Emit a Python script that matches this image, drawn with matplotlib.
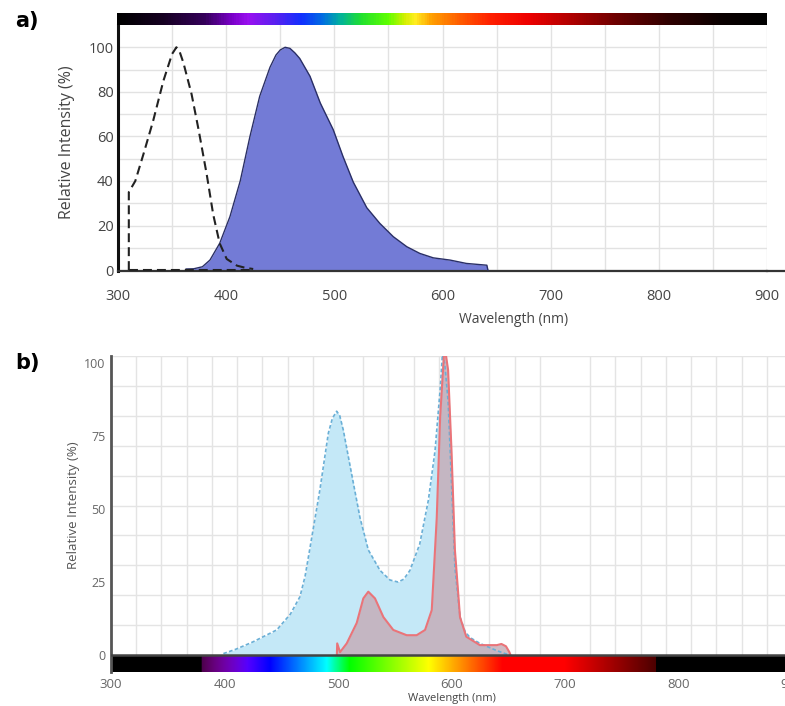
import matplotlib
matplotlib.use("Agg")
import matplotlib.pyplot as plt
import numpy as np
from matplotlib.colors import LinearSegmentedColormap

plt.rcParams['font.family'] = ['Open Sans', 'DejaVu Sans']

# ---- panel a) data (read off the picture) ----
ex_a_wl = [310, 310, 316, 323.5, 332.5, 342, 346, 350, 354, 357, 360.5, 368,
           374.5, 382, 388, 394, 400.5, 410, 418, 425]
ex_a_int = [0, 35, 40, 52, 67, 85, 91, 97, 100, 98, 93, 79,
            63, 43, 25, 12, 5, 2, 1, 0.5]

em_a_wl = [363, 370, 378, 385, 394, 403.5, 413, 422, 431, 440.5, 446, 450,
           454.5, 459, 463.5, 468, 477.5, 487, 499, 508, 517.5, 530, 542,
           554.5, 567, 579, 591.5, 607, 622, 641, 642]
em_a_int = [0.5, 0.6, 1.5, 4.5, 12, 24, 40, 60, 78, 91, 96.5, 98.8,
            100, 99.5, 97.5, 95, 87, 75, 63, 51, 39.5, 28, 21,
            15, 10.5, 7.5, 5.5, 4.5, 3, 2.2, 0]

# ---- panel b) data ----
ex_b_wl = [399, 410, 425, 446, 458, 466.5, 471, 475, 484, 491.5, 495, 498.8,
           501.5, 504.7, 512, 519.4, 526.7, 537, 545.8, 553, 558, 563.4, 572,
           579.6, 585.5, 590, 592, 594, 597, 600, 603, 607.5, 612, 616.3,
           625, 640, 651]
ex_b_int = [0.5, 2, 4.5, 8.6, 14, 20, 27, 36, 56.5, 76, 81, 83.5,
            82, 77, 62, 47, 36, 29, 25.7, 25, 26, 29, 38,
            53, 70, 91, 103, 100, 87, 59, 30, 13, 8, 6,
            4, 1.5, 0]

em_b_wl = [499, 499.3, 501.8, 507.7, 516.5, 522.3, 526.7, 532.6, 540, 548.7,
           560.5, 569.3, 576.7, 582.6, 587, 590, 593.4, 595, 597, 600, 603,
           607.5, 613, 625, 640, 644, 648, 651, 652]
em_b_int = [0, 4, 1, 4, 11, 19.4, 21.7, 19.4, 13, 8.6,
            6.8, 6.8, 8.6, 15.4, 47, 81.6, 103, 103, 97.6, 70, 36,
            13, 6.3, 3.4, 3.4, 3.8, 3, 1, 0]

x_ticks = [300, 400, 500, 600, 700, 800, 900]
ya_ticks = [0, 20, 40, 60, 80, 100]
yb_ticks = [0, 25, 50, 75, 100]


def bruton_rgb(w):
    # approximate visible-spectrum colour for a wavelength in nm
    if 380 <= w < 440:
        r, g, b = -(w - 440) / 60, 0.0, 1.0
    elif 440 <= w < 490:
        r, g, b = 0.0, (w - 440) / 50, 1.0
    elif 490 <= w < 510:
        r, g, b = 0.0, 1.0, -(w - 510) / 20
    elif 510 <= w < 580:
        r, g, b = (w - 510) / 70, 1.0, 0.0
    elif 580 <= w < 645:
        r, g, b = 1.0, -(w - 645) / 65, 0.0
    elif 645 <= w <= 780:
        r, g, b = 1.0, 0.0, 0.0
    else:
        return (0, 0, 0)
    if w < 420:
        f = 0.3 + 0.7 * (w - 380) / 40
    elif w > 700:
        f = 0.3 + 0.7 * (780 - w) / 80
    else:
        f = 1.0
    return (r * f, g * f, b * f)


fig = plt.figure(figsize=(7.85, 7.06), dpi=100)
W, H = 785.0, 706.0

# ================= panel a =================
ax1 = fig.add_axes([118 / W, 1 - 271 / H, 649 / W, 246 / H])
bar1 = fig.add_axes([117 / W, 1 - 25 / H, 650 / W, 12 / H])

top_stops = [(300, '#000000'), (340, '#150020'), (380, '#35005a'), (405, '#7a00c8'),
             (420, '#9a10f0'), (445, '#5a20f0'), (470, '#1030ff'), (490, '#0070e0'),
             (505, '#00b0a0'), (525, '#20e030'), (550, '#60ff00'), (565, '#d0f000'),
             (575, '#ffee20'), (590, '#ffa000'), (615, '#ff6000'), (645, '#ff2000'),
             (680, '#ee0000'), (720, '#b00000'), (760, '#700000'), (810, '#300000'),
             (860, '#0a0000'), (900, '#000000')]
cmap_top = LinearSegmentedColormap.from_list(
    'top', [((w - 300) / 600, c) for w, c in top_stops])
bar1.imshow(np.linspace(0, 1, 600)[None, :], cmap=cmap_top, aspect='auto',
            extent=[300, 900, 0, 1])
bar1.set_axis_off()

ax1.fill_between(em_a_wl, em_a_int, color='#737bd6', zorder=2, linewidth=0)
ax1.plot(em_a_wl, em_a_int, color='#2a2f66', lw=1.0, zorder=3)
ax1.plot(ex_a_wl, ex_a_int, color='#222222', lw=1.5, dashes=(4.3, 2.4), zorder=4)
ax1.plot([ex_a_wl[0], ex_a_wl[-1]], [0, 0], color='#222222', lw=1.5,
         dashes=(4.3, 2.4), zorder=4)

ax1.set_xlim(300, 900)
ax1.set_ylim(-0.4, 110)
ax1.set_xticks(x_ticks)
ax1.set_yticks(ya_ticks)
ax1.set_xticks(np.arange(300, 901, 50), minor=True)
ax1.set_yticks(np.arange(0, 101, 10), minor=True)
ax1.grid(which='minor', color='#e2e2e2', lw=1.0)
ax1.grid(which='major', color='#e2e2e2', lw=1.0)
ax1.set_axisbelow(True)
ax1.tick_params(which='both', length=0)
ax1.tick_params(axis='x', pad=13, labelsize=10.5, labelcolor='#444444')
ax1.tick_params(axis='y', pad=3, labelsize=10.5, labelcolor='#444444')
for s in ['top', 'right']:
    ax1.spines[s].set_visible(False)
ax1.spines['left'].set_linewidth(2.2)
ax1.spines['left'].set_color('#111111')
ax1.spines['bottom'].set_linewidth(1.6)
ax1.spines['bottom'].set_color('#333333')
ax1.axhline(-0.4, xmin=1.0, xmax=1.03, color='#333333', lw=1.6, clip_on=False)

ax1.set_ylabel('Relative Intensity (%)', fontsize=11.5, color='#444444')
ax1.yaxis.set_label_coords(-0.066, 0.524)
ax1.set_xlabel('Wavelength (nm)', fontsize=10, color='#444444')
ax1.xaxis.set_label_coords(0.609, -0.165)

# ================= panel b =================
ybot, ytop = -5.8, 102.4
ax2 = fig.add_axes([111 / W, 1 - 672 / H, 681 / W, 316 / H])

bar_wl = np.arange(300, 901)
bar_rgb = np.array([bruton_rgb(w) for w in bar_wl])[None, :, :]
ax2.imshow(bar_rgb, aspect='auto', extent=[300, 900, ybot, -0.5], zorder=1)

ax2.fill_between(ex_b_wl, ex_b_int, color='#c4e8f7', linewidth=0, zorder=2)
ax2.fill_between(em_b_wl, em_b_int, color='#c4aab5', alpha=0.8, linewidth=0, zorder=3)
ax2.plot(ex_b_wl, ex_b_int, color='#6aafd6', lw=1.2, dashes=(2.2, 1.4), zorder=4)
ax2.plot(em_b_wl, em_b_int, color='#ea7479', lw=1.5, zorder=5)
ax2.axhline(0, color='#444444', lw=1.8, zorder=6)

ax2.set_xlim(300, 900)
ax2.set_ylim(ybot, ytop)
ax2.set_xticks(x_ticks)
ax2.set_yticks(yb_ticks)
ax2.set_xticks(300 + np.arange(0, 28) * 200 / 9, minor=True)
ax2.set_yticks(np.linspace(0, ytop, 11), minor=True)
ax2.grid(which='minor', color='#e4e4e4', lw=1.0)
ax2.grid(which='major', visible=False)
ax2.set_axisbelow(True)
ax2.tick_params(which='both', length=0)
ax2.tick_params(axis='x', pad=4, labelsize=9.5, labelcolor='#666666')
ax2.tick_params(axis='y', pad=4, labelsize=9, labelcolor='#666666')
for s in ['top', 'right', 'bottom']:
    ax2.spines[s].set_visible(False)
ax2.spines['left'].set_linewidth(2.0)
ax2.spines['left'].set_color('#555555')

ax2.set_ylabel('Relative Intensity (%)', fontsize=9.5, color='#555555')
ax2.yaxis.set_label_coords(-0.045, 0.528)
ax2.set_xlabel('Wavelength (nm)', fontsize=8, color='#444444')
ax2.xaxis.set_label_coords(0.5, -0.066)

# panel letters
fig.text(15 / W, 1 - 11 / H, 'a)', fontsize=15, fontweight='bold', va='top',
         family=['DejaVu Sans'])
fig.text(15 / W, 1 - 353 / H, 'b)', fontsize=15, fontweight='bold', va='top',
         family=['DejaVu Sans'])

fig.savefig('out.png', dpi=100)
